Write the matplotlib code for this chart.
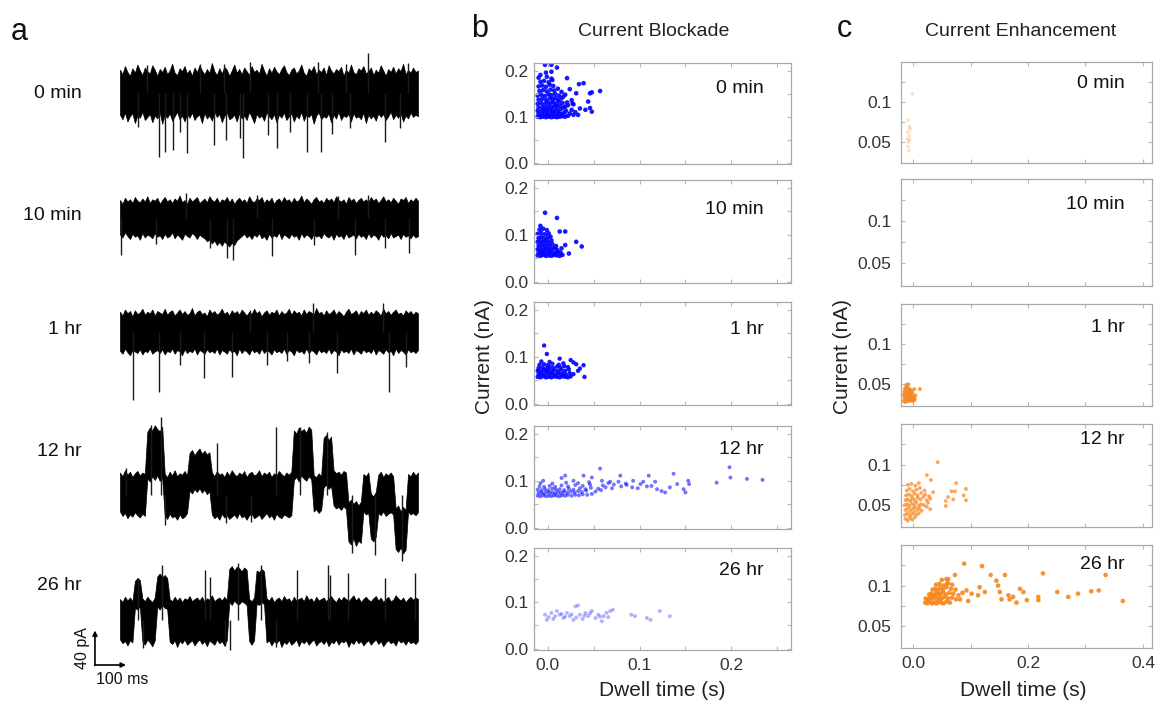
import matplotlib

matplotlib.use("Agg")

import matplotlib.pyplot as plt
import numpy as np

W, H = 1160, 701
plt.rcParams["font.family"] = ["Liberation Sans", "DejaVu Sans"]

# ---------------- panel a: current traces (pA around the open level), 121 samples over 1 s ----------------
trace_labels = ["0 min", "10 min", "1 hr", "12 hr", "26 hr"]

upper_0min = [31, 25, 36, 28, 23, 33, 27, 38, 30, 24, 34, 29, 26, 37, 31, 23, 32, 28, 35, 25,
              30, 39, 27, 24, 33, 29, 36, 26, 31, 23, 34, 28, 37, 30, 25, 32, 27, 40, 29, 24,
              33, 26, 35, 31, 23, 30, 38, 27, 32, 25, 34, 29, 24, 36, 28, 31, 26, 39, 30, 23,
              33, 27, 35, 29, 25, 32, 37, 28, 24, 31, 34, 26, 30, 38, 27, 23, 33, 29, 36, 25,
              31, 28, 34, 24, 37, 30, 26, 32, 29, 35, 23, 31, 27, 38, 28, 25, 33, 30, 36, 26,
              29, 34, 24, 31, 27, 37, 30, 23, 32, 28, 35, 26, 33, 29, 39, 25, 31, 27, 34, 28, 30]
lower_0min = [-29, -35, -26, -38, -31, -27, -40, -30, -33, -25, -36, -32, -28, -39, -30, -34, -26, -41, -29, -33,
              -27, -37, -31, -25, -35, -30, -38, -28, -33, -26, -36, -31, -29, -40, -27, -34, -30, -37, -25, -32,
              -28, -39, -31, -26, -35, -33, -29, -38, -27, -34, -30, -36, -25, -32, -40, -28, -33, -30, -37, -26,
              -31, -35, -28, -39, -29, -33, -26, -36, -31, -27, -38, -30, -34, -25, -37, -29, -32, -28, -41, -30,
              -26, -35, -31, -33, -27, -39, -29, -34, -25, -36, -30, -32, -28, -38, -27, -33, -31, -35, -26, -40,
              -29, -34, -30, -37, -27, -32, -28, -36, -31, -25, -35, -29, -33, -27, -38, -30, -34, -26, -32, -29, -31]
spikes_0min = [(131, -85), (151, -79), (178, -76), (201, -52), (225, -80), (315, -69), (356, -63),
               (403, -60), (413, -87), (497, -56), (527, -73), (571, -52), (628, -79), (675, -79),
               (711, -55), (772, -47), (889, -65), (940, -47), (832, 53), (436, 41), (664, 41),
               (966, 40), (268, 38), (60, -45), (90, 37), (350, 38), (760, 39)]

upper_10min = [24, 19, 27, 22, 25, 20, 28, 23, 21, 26, 22, 29, 20, 25, 23, 27, 19, 24, 28, 22,
               25, 20, 26, 23, 30, 21, 24, 19, 27, 22, 25, 28, 20, 23, 26, 21, 29, 24, 22, 27,
               20, 25, 23, 28, 21, 26, 19, 24, 27, 22, 25, 20, 29, 23, 21, 26, 24, 28, 20, 25,
               22, 27, 19, 24, 26, 21, 28, 23, 25, 20, 27, 22, 24, 30, 21, 26, 23, 19, 25, 28,
               22, 24, 20, 27, 23, 26, 21, 29, 24, 22, 25, 19, 28, 23, 26, 20, 24, 27, 22, 25,
               21, 28, 23, 26, 20, 24, 29, 22, 25, 21, 27, 23, 19, 26, 24, 28, 20, 25, 22, 27, 23]
lower_10min = [-22, -26, -19, -24, -28, -21, -25, -23, -29, -20, -26, -22, -24, -27, -20, -25, -23, -28, -21, -26,
               -24, -19, -27, -22, -25, -29, -21, -24, -26, -20, -23, -28, -22, -25, -27, -31, -29, -34, -30, -36,
               -32, -37, -31, -35, -38, -33, -36, -30, -27, -24, -21, -26, -23, -28, -22, -25, -20, -27, -24, -29,
               -21, -26, -23, -25, -19, -28, -22, -24, -27, -21, -25, -23, -29, -20, -26, -22, -24, -28, -21, -25,
               -23, -27, -20, -24, -26, -22, -29, -21, -25, -23, -28, -20, -26, -24, -22, -27, -21, -25, -23, -28,
               -20, -26, -22, -24, -29, -21, -25, -23, -27, -20, -26, -24, -22, -28, -21, -25, -23, -27, -22, -26, -24]
spikes_10min = [(3, -49), (359, -53), (379, -56), (302, -40), (510, -51), (789, -49), (889, -40),
                (970, -47), (221, 33), (460, 31), (832, 31), (732, 29), (120, -35), (650, -36)]

upper_1hr = [27, 22, 30, 25, 28, 21, 29, 24, 26, 31, 23, 27, 25, 30, 22, 28, 26, 24, 31, 23,
             27, 29, 22, 26, 30, 24, 28, 23, 25, 32, 22, 27, 29, 24, 26, 21, 30, 25, 28, 23,
             26, 31, 24, 27, 22, 29, 25, 28, 23, 30, 26, 22, 27, 24, 31, 25, 28, 21, 26, 29,
             23, 27, 25, 30, 22, 28, 24, 26, 31, 23, 29, 25, 27, 22, 30, 24, 28, 26, 23, 32,
             25, 27, 22, 29, 24, 26, 30, 23, 28, 25, 21, 27, 31, 24, 26, 29, 22, 28, 25, 30,
             23, 27, 24, 29, 26, 22, 31, 25, 28, 23, 27, 30, 24, 26, 22, 29, 25, 28, 23, 27, 25]
lower_1hr = [-25, -29, -22, -27, -31, -24, -26, -28, -23, -30, -25, -27, -22, -29, -26, -24, -28, -23, -30, -25,
             -27, -22, -29, -24, -26, -31, -23, -28, -25, -27, -22, -30, -24, -26, -29, -23, -27, -25, -28, -22,
             -30, -24, -26, -29, -23, -27, -25, -31, -22, -28, -24, -26, -30, -23, -27, -25, -29, -22, -28, -24,
             -26, -30, -23, -27, -25, -28, -22, -29, -24, -26, -31, -23, -27, -25, -29, -22, -28, -24, -26, -30,
             -23, -27, -25, -28, -22, -29, -24, -26, -31, -23, -27, -25, -28, -22, -30, -24, -26, -29, -23, -27,
             -25, -28, -22, -30, -24, -26, -29, -23, -27, -25, -31, -22, -28, -24, -26, -30, -23, -27, -25, -28, -24]
spikes_1hr = [(44, -91), (131, -80), (282, -61), (376, -60), (493, -44), (634, -41), (728, -55),
              (903, -80), (960, -47), (201, -44), (648, 39), (883, 39), (436, 30), (560, -38)]

upper_12hr = [30, 25, 33, 27, 31, 24, 29, 32, 26, 30, 28,
              84, 90, 86, 93, 88, 85, 91,
              28, 24, 31, 26, 33, 25, 29, 27, 32, 26,
              56, 60, 53, 58, 62, 55, 59, 54, 57,
              30, 25, 32, 27, 29, 24, 31, 26, 33, 28, 25, 30, 27, 32, 24, 29, 31, 26, 28, 33,
              25, 30, 27, 31, 24, 29, 26, 32, 28, 25, 30, 27, 31,
              86, 82, 90, 85, 88, 83, 91, 87,
              26, 24, 29, 25,
              76, 80, 73, 78,
              33, 29, 31, 27, 32, 30,
              -10, -6, -12, -8, -14, -9,
              28, 25, 30,
              2, -2, 4,
              27, 31, 24, 29, 26, 30, 25,
              -18, -14, -22, -16, -20,
              28, 25, 31, 26, 30]
lower_12hr = [-22, -28, -24, -31, -26, -29, -23, -27, -30, -25, -28,
              22, 18, 25, 20, 26, 19, 23,
              -27, -32, -25, -30, -28, -33, -26, -31, -29, -24,
              6, 2, 8, 4, 9, 3, 7, 1, 5,
              -26, -31, -28, -33, -25, -30, -27, -32, -29, -26, -31, -24, -30, -28, -33, -27, -25, -31, -29, -26,
              -32, -28, -24, -30, -27, -33, -25, -29, -31, -26, -28, -30, -27,
              20, 24, 18, 26, 22, 19, 25, 21,
              -22, -19, -24, -20,
              10, 14, 8, 12,
              -14, -18, -16, -20, -15, -19,
              -62, -66, -58, -68, -61, -64,
              -22, -26, -24,
              -58, -62, -56,
              -24, -27, -22, -28, -25, -23, -26,
              -72, -76, -70, -78, -73,
              -22, -26, -24, -27, -23]
spikes_12hr = [(138, 104), (104, 93), (326, 69), (523, 91), (695, 84), (604, 90), (151, -40),
               (356, -38), (856, -80), (946, -88), (780, -77), (440, -36), (20, 36)]

upper_26hr = [28, 24, 31, 26, 30, 25,
              52, 56, 53,
              29, 25, 31, 27, 24, 30,
              58, 62, 57, 60, 56,
              28, 25, 31, 26, 30, 24, 29, 27, 32, 25, 28, 30, 26, 31, 24, 29, 27, 33, 25, 28, 30, 26, 31, 27,
              68, 72, 66, 71, 69, 65, 70, 67,
              28, 25, 30,
              66, 64, 68, 65,
              29, 26, 31, 24, 28, 30, 25, 32, 27, 29, 24, 31, 26, 28, 30, 25, 33, 27, 29, 24,
              31, 26, 28, 30, 25, 29, 32, 27, 24, 30, 26, 31, 28, 25, 29, 33, 26, 30, 24, 28,
              31, 27, 25, 29, 32, 26, 30, 24, 28, 31, 25, 27, 33, 29, 26, 30, 24, 28, 31, 27, 30, 28]
lower_26hr = [-26, -31, -28, -34, -27, -30,
              16, 14, 18,
              -28, -33, -26, -30, -35, -27,
              18, 14, 20, 16, 15,
              -29, -32, -27, -36, -28, -31, -26, -33, -30, -27, -34, -29, -26, -32, -28, -35, -27, -30, -33, -26,
              -31, -28, -34, -27,
              24, 20, 26, 22, 21, 25, 23, 20,
              -28, -33, -27,
              22, 20, 24, 21,
              -30, -27, -34, -28, -31, -26, -36, -29, -32, -27, -33, -30, -26, -35, -28, -31, -27, -33, -29, -26,
              -34, -30, -28, -32, -27, -35, -29, -31, -26, -33, -28, -30, -27, -36, -29, -32, -26, -31, -28, -34,
              -30, -27, -33, -29, -26, -32, -28, -35, -30, -27, -31, -29, -34, -26, -30, -28, -33, -27, -31, -29,
              -32, -28]
spikes_26hr = [(60, 56), (141, 73), (285, 67), (302, 57), (396, 76), (473, 73), (594, 67), (698, 73),
               (765, 63), (889, 56), (990, 63), (705, 60), (77, -37), (369, -40), (352, -35), (523, -36)]

# ---------------- panel b: current blockade events (dwell s, current nA) ----------------
blockade_0min = [
    (-0.011, 0.100), (-0.008, 0.099), (-0.005, 0.100), (-0.002, 0.099), (0.001, 0.100), (0.004, 0.099),
    (0.007, 0.100), (0.010, 0.099), (0.013, 0.100), (0.016, 0.101), (0.019, 0.100), (0.022, 0.102),
    (-0.010, 0.106), (-0.006, 0.105), (-0.003, 0.107), (0.000, 0.105), (0.003, 0.106), (0.006, 0.108),
    (0.009, 0.105), (0.012, 0.107), (0.015, 0.106), (0.018, 0.109), (0.024, 0.107), (0.028, 0.104),
    (-0.011, 0.113), (-0.007, 0.112), (-0.004, 0.114), (-0.001, 0.112), (0.002, 0.115), (0.005, 0.113),
    (0.008, 0.114), (0.011, 0.112), (0.014, 0.116), (0.020, 0.113), (0.030, 0.110),
    (-0.010, 0.120), (-0.006, 0.121), (-0.002, 0.119), (0.001, 0.122), (0.004, 0.120), (0.007, 0.123),
    (0.010, 0.121), (0.013, 0.124), (0.017, 0.120), (0.022, 0.125),
    (-0.011, 0.128), (-0.007, 0.130), (-0.003, 0.127), (0.000, 0.131), (0.003, 0.129), (0.006, 0.132),
    (0.009, 0.128), (0.012, 0.133), (0.016, 0.130), (0.021, 0.131), (0.028, 0.127),
    (-0.010, 0.137), (-0.006, 0.139), (-0.002, 0.136), (0.002, 0.140), (0.005, 0.138), (0.008, 0.141),
    (0.011, 0.137), (0.015, 0.140),
    (-0.011, 0.146), (-0.007, 0.148), (-0.003, 0.145), (0.001, 0.149), (0.004, 0.147), (0.008, 0.150),
    (0.012, 0.146), (0.019, 0.148),
    (-0.009, 0.156), (-0.005, 0.158), (-0.001, 0.155), (0.003, 0.159), (0.007, 0.157), (0.011, 0.161),
    (-0.010, 0.166), (-0.006, 0.168), (-0.002, 0.165), (0.002, 0.170), (0.006, 0.167),
    (-0.008, 0.176), (-0.004, 0.178), (0.001, 0.175), (0.005, 0.180),
    (-0.010, 0.185), (-0.001, 0.187), (0.004, 0.183),
    (-0.003, 0.213), (0.004, 0.213), (0.010, 0.207), (-0.008, 0.191), (-0.002, 0.196), (0.004, 0.198),
    (0.021, 0.184), (0.034, 0.171), (0.039, 0.173), (0.024, 0.160), (0.046, 0.151), (0.057, 0.156),
    (0.031, 0.151), (0.026, 0.136), (0.027, 0.129), (0.044, 0.133), (0.035, 0.118), (0.041, 0.115),
    (0.048, 0.111), (0.033, 0.104), (0.026, 0.115), (0.019, 0.122), (0.017, 0.144), (0.015, 0.154),
    (0.048, 0.153), (0.046, 0.119),
]

blockade_10min = [
    (-0.011, 0.056), (-0.008, 0.055), (-0.005, 0.057), (-0.002, 0.055), (0.001, 0.056), (0.004, 0.055),
    (0.007, 0.057), (0.010, 0.056), (0.013, 0.055), (0.016, 0.057),
    (-0.010, 0.062), (-0.007, 0.063), (-0.004, 0.061), (-0.001, 0.064), (0.002, 0.062), (0.005, 0.063),
    (0.008, 0.061), (0.011, 0.064), (0.014, 0.062),
    (-0.011, 0.069), (-0.008, 0.070), (-0.005, 0.068), (-0.002, 0.071), (0.001, 0.069), (0.004, 0.070),
    (0.007, 0.072), (0.010, 0.068),
    (-0.010, 0.077), (-0.007, 0.078), (-0.004, 0.076), (-0.001, 0.079), (0.002, 0.077), (0.005, 0.080),
    (0.009, 0.076),
    (-0.011, 0.085), (-0.008, 0.086), (-0.005, 0.084), (-0.002, 0.087), (0.001, 0.085), (0.004, 0.088),
    (-0.010, 0.093), (-0.007, 0.095), (-0.004, 0.092), (0.000, 0.094), (0.003, 0.096),
    (-0.011, 0.102), (-0.007, 0.104), (-0.003, 0.101), (0.001, 0.103),
    (-0.009, 0.111), (-0.005, 0.113), (-0.001, 0.110), (-0.008, 0.119),
    (-0.003, 0.147), (0.010, 0.136), (0.013, 0.107), (0.019, 0.107), (0.031, 0.085), (0.037, 0.075),
    (0.023, 0.060), (0.019, 0.078), (0.015, 0.071),
]

blockade_1hr = [
    (-0.011, 0.057), (-0.008, 0.056), (-0.005, 0.058), (-0.002, 0.056), (0.001, 0.057), (0.004, 0.056),
    (0.007, 0.058), (0.010, 0.057), (0.013, 0.056), (0.016, 0.058), (0.019, 0.057), (0.022, 0.056),
    (0.025, 0.058),
    (-0.010, 0.063), (-0.007, 0.064), (-0.004, 0.062), (-0.001, 0.065), (0.002, 0.063), (0.005, 0.064),
    (0.008, 0.062), (0.011, 0.065), (0.014, 0.063), (0.017, 0.064), (0.020, 0.062), (0.024, 0.065),
    (0.028, 0.063),
    (-0.011, 0.070), (-0.008, 0.069), (-0.005, 0.071), (-0.002, 0.070), (0.001, 0.072), (0.004, 0.069),
    (0.007, 0.071), (0.011, 0.070), (0.015, 0.072), (0.019, 0.070), (0.023, 0.073),
    (-0.010, 0.076), (-0.006, 0.077), (-0.002, 0.075), (0.002, 0.078), (0.006, 0.076), (0.010, 0.079),
    (0.014, 0.077), (0.018, 0.080), (0.022, 0.078),
    (-0.009, 0.083), (-0.004, 0.084), (0.000, 0.082), (0.005, 0.085), (0.012, 0.083), (0.017, 0.086),
    (-0.007, 0.090), (0.002, 0.089),
    (-0.004, 0.124), (-0.001, 0.106), (0.013, 0.096), (0.025, 0.093), (0.031, 0.084), (0.039, 0.082),
    (0.040, 0.057), (0.033, 0.070), (0.028, 0.088), (0.035, 0.075),
]

blockade_12hr = [
    (-0.011, 0.068), (-0.008, 0.067), (-0.005, 0.069), (-0.002, 0.067), (0.001, 0.068), (0.004, 0.067),
    (0.007, 0.069), (0.010, 0.068), (0.013, 0.067), (0.016, 0.069), (0.019, 0.068), (0.022, 0.070),
    (0.026, 0.068), (0.030, 0.070), (0.034, 0.069), (0.038, 0.071), (0.043, 0.070), (0.048, 0.072),
    (-0.010, 0.074), (-0.007, 0.075), (-0.004, 0.073), (-0.001, 0.076), (0.002, 0.074), (0.005, 0.075),
    (0.008, 0.073), (0.011, 0.076), (0.014, 0.074), (0.017, 0.076), (0.021, 0.075), (0.025, 0.077),
    (0.029, 0.075), (0.033, 0.078), (0.037, 0.076), (0.042, 0.079), (0.052, 0.077), (0.058, 0.080),
    (-0.011, 0.081), (-0.007, 0.080), (-0.003, 0.082), (0.001, 0.080), (0.005, 0.083), (0.009, 0.081),
    (0.013, 0.082), (0.018, 0.080), (0.023, 0.083), (0.028, 0.081), (0.035, 0.084), (0.041, 0.082),
    (0.047, 0.085), (0.055, 0.083), (0.063, 0.086), (0.070, 0.084),
    (-0.009, 0.088), (-0.004, 0.087), (0.002, 0.089), (0.008, 0.087), (0.015, 0.090), (0.022, 0.088),
    (0.030, 0.091), (0.038, 0.089), (0.046, 0.092), (0.060, 0.090), (0.072, 0.092), (0.080, 0.088),
    (0.092, 0.086), (0.098, 0.084), (0.108, 0.088),
    (-0.008, 0.095), (0.005, 0.094), (0.020, 0.096), (0.033, 0.095), (0.045, 0.097), (0.066, 0.095),
    (0.085, 0.094),
    (-0.005, 0.100), (0.015, 0.106), (0.019, 0.111), (0.028, 0.100), (0.039, 0.111), (0.048, 0.107),
    (0.057, 0.126), (0.059, 0.100), (0.068, 0.098), (0.077, 0.098), (0.079, 0.111), (0.086, 0.091),
    (0.093, 0.100), (0.101, 0.093), (0.104, 0.098), (0.110, 0.111), (0.113, 0.089), (0.117, 0.098),
    (0.119, 0.082), (0.124, 0.078), (0.128, 0.075), (0.133, 0.086), (0.137, 0.115), (0.141, 0.093),
    (0.148, 0.082), (0.150, 0.075), (0.153, 0.100), (0.154, 0.093), (0.184, 0.096), (0.198, 0.129),
    (0.199, 0.107), (0.217, 0.104), (0.234, 0.102),
]

blockade_26hr = [
    (-0.003, 0.073), (-0.001, 0.062), (0.004, 0.077), (0.008, 0.070), (0.010, 0.081), (0.013, 0.073),
    (0.017, 0.066), (0.021, 0.077), (0.024, 0.070), (0.028, 0.062), (0.030, 0.091), (0.033, 0.093),
    (0.035, 0.073), (0.041, 0.077), (0.044, 0.070), (0.048, 0.081), (0.052, 0.066), (0.055, 0.073),
    (0.059, 0.059), (0.061, 0.070), (0.064, 0.077), (0.068, 0.081), (0.071, 0.084), (0.091, 0.073),
    (0.095, 0.070), (0.108, 0.066), (0.112, 0.062), (0.122, 0.081), (0.133, 0.070), (0.001, 0.068),
    (0.006, 0.064), (0.015, 0.075), (0.026, 0.074), (0.031, 0.067), (0.038, 0.064), (0.046, 0.076),
    (0.057, 0.069), (0.066, 0.068), (0.019, 0.069), (0.040, 0.071),
]

# ---------------- panel c: current enhancement events ----------------
enhance_0min = [(-0.008, 0.077), (-0.006, 0.069), (-0.009, 0.062), (-0.007, 0.057), (-0.010, 0.053),
                (-0.008, 0.049), (-0.009, 0.044), (-0.007, 0.039), (-0.006, 0.052), (-0.001, 0.110),
                (-0.005, 0.066)]

enhance_10min = []

enhance_1hr = [
    (-0.016, 0.029), (-0.013, 0.028), (-0.010, 0.030), (-0.007, 0.029), (-0.004, 0.031), (-0.001, 0.029),
    (0.002, 0.030), (-0.015, 0.033), (-0.012, 0.034), (-0.009, 0.032), (-0.006, 0.035), (-0.003, 0.033),
    (0.000, 0.034), (0.003, 0.032), (-0.016, 0.037), (-0.013, 0.038), (-0.010, 0.036), (-0.007, 0.039),
    (-0.004, 0.037), (-0.001, 0.038), (-0.015, 0.041), (-0.011, 0.042), (-0.008, 0.040), (-0.005, 0.043),
    (-0.002, 0.041), (-0.014, 0.045), (-0.010, 0.046), (-0.006, 0.044), (-0.012, 0.049), (0.004, 0.036),
    (0.002, 0.044), (-0.008, 0.050), (0.012, 0.044),
]

enhance_12hr = [
    (-0.013, 0.033), (-0.009, 0.031), (-0.005, 0.034), (-0.001, 0.032), (0.003, 0.035),
    (-0.014, 0.038), (-0.010, 0.040), (-0.006, 0.037), (-0.002, 0.039), (0.002, 0.041), (0.006, 0.038),
    (0.010, 0.040), (-0.013, 0.044), (-0.009, 0.046), (-0.005, 0.043), (-0.001, 0.045), (0.003, 0.047),
    (0.007, 0.044), (0.011, 0.046), (0.015, 0.043), (-0.014, 0.050), (-0.010, 0.051), (-0.006, 0.049),
    (-0.002, 0.052), (0.002, 0.050), (0.006, 0.053), (0.010, 0.049), (0.014, 0.051), (0.019, 0.050),
    (0.024, 0.048), (-0.013, 0.056), (-0.009, 0.057), (-0.005, 0.055), (-0.001, 0.058), (0.003, 0.056),
    (0.008, 0.059), (0.013, 0.057), (0.018, 0.060), (0.024, 0.056), (0.030, 0.058), (-0.012, 0.062),
    (-0.007, 0.063), (-0.002, 0.061), (0.003, 0.064), (0.008, 0.062), (0.014, 0.065), (0.021, 0.063),
    (0.028, 0.061), (-0.011, 0.068), (-0.006, 0.070), (0.000, 0.067), (0.006, 0.069), (0.012, 0.071),
    (0.020, 0.068), (-0.009, 0.075), (-0.003, 0.076), (0.004, 0.074), (0.010, 0.077),
    (0.024, 0.087), (0.031, 0.081), (0.043, 0.103), (0.057, 0.055), (0.057, 0.049), (0.061, 0.060),
    (0.067, 0.067), (0.073, 0.067), (0.075, 0.077), (0.088, 0.062), (0.092, 0.070), (0.092, 0.056),
    (0.070, 0.057), (0.035, 0.066), (0.030, 0.045), (0.026, 0.053),
]

enhance_26hr = [
    (0.021, 0.079), (0.025, 0.078), (0.029, 0.080), (0.033, 0.078), (0.037, 0.079), (0.041, 0.078),
    (0.045, 0.080), (0.049, 0.079), (0.053, 0.078), (0.058, 0.080), (0.064, 0.079),
    (0.022, 0.084), (0.026, 0.083), (0.030, 0.085), (0.034, 0.084), (0.038, 0.086), (0.042, 0.083),
    (0.046, 0.085), (0.050, 0.084), (0.055, 0.086), (0.061, 0.084), (0.068, 0.085), (0.075, 0.083),
    (0.028, 0.089), (0.032, 0.090), (0.036, 0.088), (0.040, 0.091), (0.044, 0.089), (0.048, 0.090),
    (0.052, 0.092), (0.057, 0.089), (0.063, 0.091), (0.070, 0.090), (0.079, 0.088), (0.086, 0.091),
    (0.034, 0.095), (0.039, 0.096), (0.043, 0.094), (0.047, 0.097), (0.052, 0.095), (0.058, 0.098),
    (0.066, 0.096), (0.074, 0.095), (0.040, 0.101), (0.046, 0.102), (0.053, 0.100), (0.061, 0.103),
    (0.068, 0.101), (0.050, 0.107), (0.058, 0.108),
    (0.089, 0.127), (0.120, 0.124), (0.135, 0.113), (0.160, 0.113), (0.145, 0.106), (0.148, 0.100),
    (0.116, 0.098), (0.125, 0.092), (0.113, 0.088), (0.102, 0.090), (0.093, 0.094), (0.096, 0.081),
    (0.082, 0.083), (0.073, 0.113), (0.061, 0.108), (0.059, 0.102), (0.151, 0.092), (0.166, 0.088),
    (0.174, 0.086), (0.168, 0.083), (0.186, 0.096), (0.192, 0.092), (0.198, 0.082), (0.218, 0.086),
    (0.218, 0.082), (0.226, 0.115), (0.251, 0.092), (0.270, 0.086), (0.287, 0.090), (0.310, 0.093),
    (0.323, 0.094), (0.335, 0.113), (0.365, 0.081), (0.180, 0.079), (0.154, 0.083),
]


def px_axes(fig, left, top, right, bottom):
    return fig.add_axes([left / W, 1 - bottom / H, (right - left) / W, (bottom - top) / H])


def fig_text(fig, x, y, s, **kw):
    fig.text(x / W, 1 - y / H, s, **kw)


fig = plt.figure(figsize=(W / 100, H / 100), dpi=100)

# ---------------- panel a ----------------
ax_a = px_axes(fig, 60, 45, 430, 695)
ax_a.set_xlim(-201.3, 1040.3)
ax_a.set_ylim(0, 866.7)
ax_a.axis("off")

t = np.linspace(0, 1000, 121)
traces = [
    (upper_0min, lower_0min, spikes_0min),
    (upper_10min, lower_10min, spikes_10min),
    (upper_1hr, lower_1hr, spikes_1hr),
    (upper_12hr, lower_12hr, spikes_12hr),
    (upper_26hr, lower_26hr, spikes_26hr),
]
baselines = [802.7, 636.0, 484.0, 266.7, 100.0]
label_y = [93, 215, 330, 451, 586]

for (up, lo, sp), base, ly, name in zip(traces, baselines, label_y, trace_labels):
    up = np.array(up)
    lo = np.array(lo)
    ax_a.fill_between(t, base + lo, base + up, color="black", lw=0.5, edgecolor="black")
    st = [s[0] for s in sp]
    sv = [base + s[1] for s in sp]
    ax_a.vlines(st, base, sv, color="#1a1a1a", lw=1.0)
    fig_text(fig, 82, ly, name, ha="right", va="center", fontsize=14, color="#111111")

# scale bar
ax_a.annotate("", xy=(-84, 86), xytext=(-84, 39.3),
              arrowprops=dict(arrowstyle="-|>", lw=1.2, color="black", mutation_scale=7,
                              shrinkA=0, shrinkB=0))
ax_a.annotate("", xy=(20, 40), xytext=(-84.5, 40),
              arrowprops=dict(arrowstyle="-|>", lw=1.2, color="black", mutation_scale=7,
                              shrinkA=0, shrinkB=0))
fig_text(fig, 83, 648, "40 pA", rotation=90, ha="center", va="center", fontsize=11.5, color="#111111")
fig_text(fig, 96, 680, "100 ms", ha="left", va="center", fontsize=11.5, color="#111111")

# ---------------- panels b and c ----------------
time_labels = ["0 min", "10 min", "1 hr", "12 hr", "26 hr"]

b_boxes = [(63, 164), (180, 283), (302, 405), (426, 529), (548, 650)]
c_boxes = [(62, 163), (179, 286), (304, 406), (424, 527), (545, 648)]
b_label_frac = [0.75, 0.71, 0.73, 0.77, 0.78]
c_label_frac = [0.79, 0.76, 0.77, 0.85, 0.81]

blockade = [blockade_0min, blockade_10min, blockade_1hr, blockade_12hr, blockade_26hr]
enhance = [enhance_0min, enhance_10min, enhance_1hr, enhance_12hr, enhance_26hr]
b_alpha = [0.9, 0.9, 0.9, 0.55, 0.3]
b_size = [11, 11, 10, 8, 8]
c_alpha = [0.3, 1.0, 0.85, 0.7, 0.9]
c_size = [6, 8, 8, 8, 11]

BLUE = "#0000ff"
ORANGE = "#f7861c"
SPINE = "#a9a9a9"


def style_box(ax, xlim, ylim, xmaj, xmin, ymaj, ymin, ylabels, xlabels, ypad):
    ax.set_xlim(*xlim)
    ax.set_ylim(*ylim)
    for s in ax.spines.values():
        s.set_color(SPINE)
        s.set_linewidth(0.9)
    ax.set_xticks(xmaj)
    ax.set_xticks(xmin, minor=True)
    ax.set_yticks(ymaj)
    ax.set_yticks(ymin, minor=True)
    ax.set_yticklabels(ylabels)
    if xlabels is None:
        ax.set_xticklabels([])
    else:
        ax.set_xticklabels(xlabels)
    ax.tick_params(which="both", direction="in", top=True, right=True, color="#b8b8b8",
                   length=3, width=0.8, labelsize=12.5, labelcolor="#333333")
    ax.tick_params(axis="y", pad=ypad)
    ax.tick_params(axis="x", pad=6)


for i in range(5):
    top, bottom = b_boxes[i]
    ax = px_axes(fig, 534, top, 791, bottom)
    pts = np.array(blockade[i]).T
    ax.scatter(pts[0], pts[1], s=b_size[i], color=BLUE, alpha=b_alpha[i], edgecolors="none")
    style_box(ax, (-0.015, 0.265), (-0.003, 0.217), [0.0, 0.1, 0.2], [0.05, 0.15, 0.25],
              [0.0, 0.1, 0.2], [0.05, 0.15], ["0.0", "0.1", "0.2"],
              ["0.0", "0.1", "0.2"] if i == 4 else None, 4)
    ax.text(0.895, b_label_frac[i], time_labels[i], transform=ax.transAxes, ha="right",
            va="center", fontsize=14, color="#111111")

    top, bottom = c_boxes[i]
    ax = px_axes(fig, 901, top, 1152, bottom)
    if enhance[i]:
        pts = np.array(enhance[i]).T
        ax.scatter(pts[0], pts[1], s=c_size[i], color=ORANGE, alpha=c_alpha[i], edgecolors="none")
    style_box(ax, (-0.0209, 0.4157), (0.023, 0.15), [0.0, 0.2, 0.4], [0.1, 0.3],
              [0.05, 0.1], [0.075, 0.125], ["0.05", "0.1"],
              ["0.0", "0.2", "0.4"] if i == 4 else None, 7)
    ax.text(0.892, c_label_frac[i], time_labels[i], transform=ax.transAxes, ha="right",
            va="center", fontsize=14, color="#111111")

# titles, axis labels, panel letters
fig_text(fig, 654, 32, "Current Blockade", ha="center", va="center", fontsize=14, color="#222222")
fig_text(fig, 1021, 32, "Current Enhancement", ha="center", va="center", fontsize=14, color="#222222")
fig_text(fig, 662, 690, "Dwell time (s)", ha="center", va="center", fontsize=15, color="#222222")
fig_text(fig, 1023, 690, "Dwell time (s)", ha="center", va="center", fontsize=15, color="#222222")
fig_text(fig, 485, 356, "Current (nA)", rotation=90, ha="center", va="center", fontsize=15, color="#222222")
fig_text(fig, 842, 356, "Current (nA)", rotation=90, ha="center", va="center", fontsize=15, color="#222222")

fig_text(fig, 11, 40, "a", ha="left", va="baseline", fontsize=22, color="#111111")
fig_text(fig, 471, 37, "b", ha="left", va="baseline", fontsize=22, color="#111111")
fig_text(fig, 837, 37, "c", ha="left", va="baseline", fontsize=22, color="#111111")

fig.savefig("out.png", dpi=100)
plt.close(fig)
